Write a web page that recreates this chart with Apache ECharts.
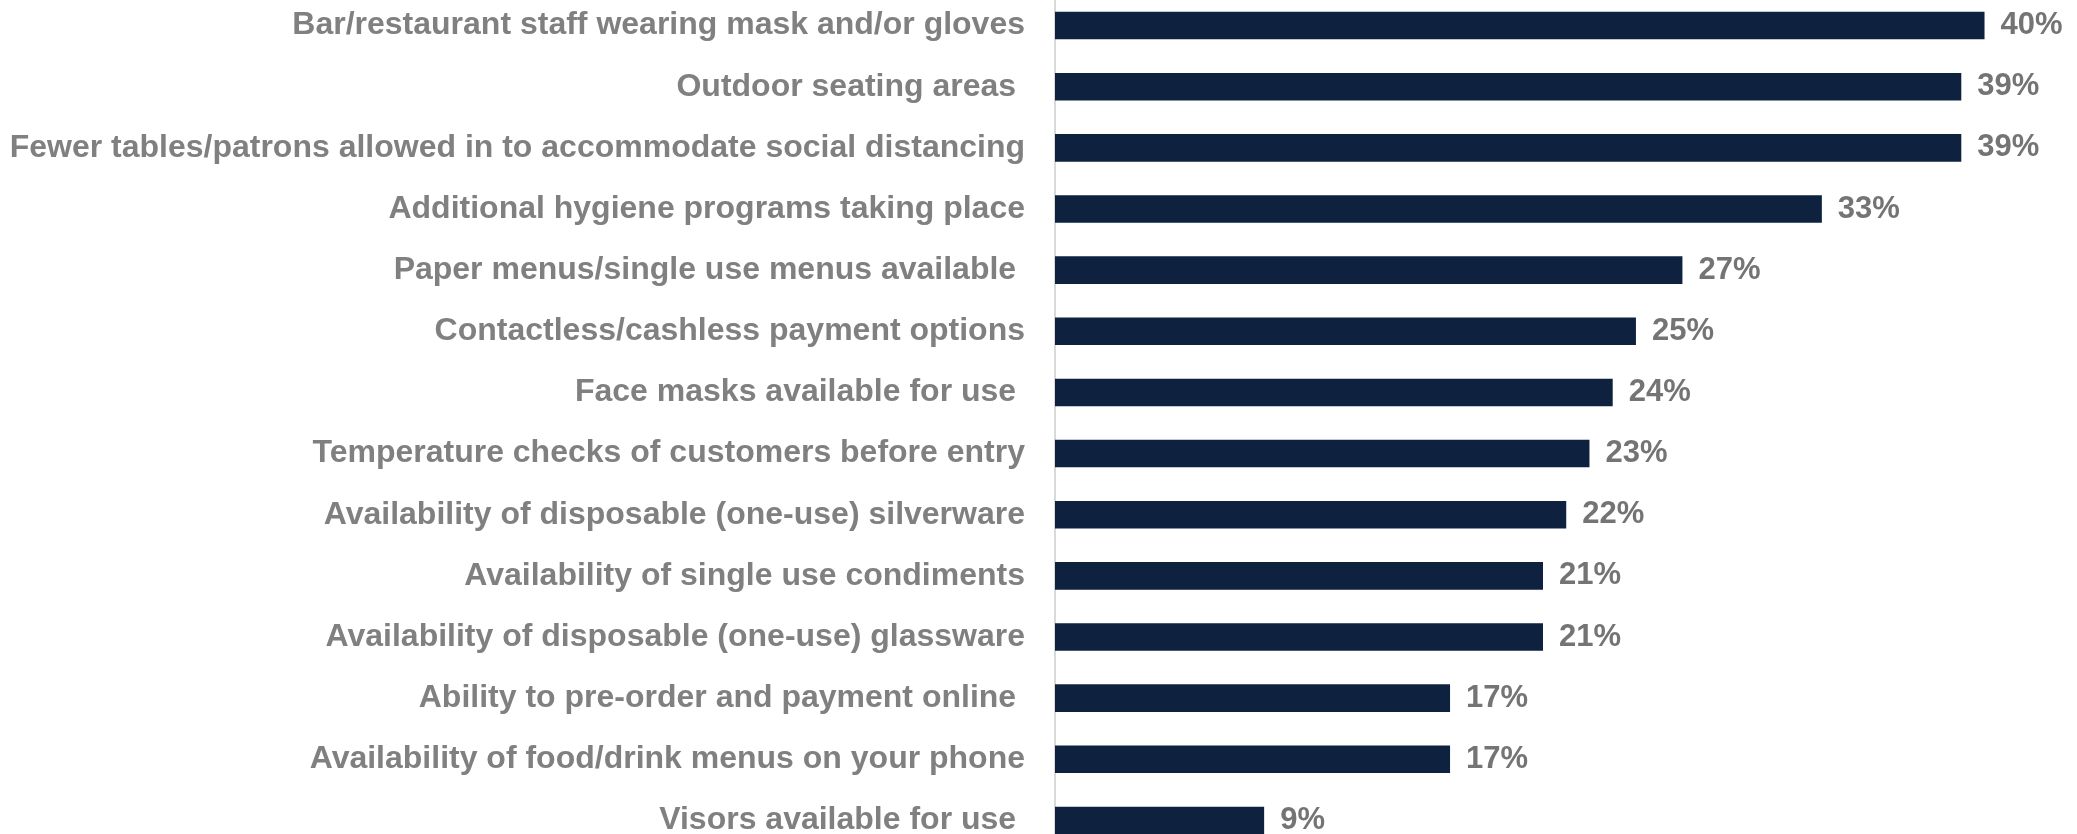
<!DOCTYPE html>
<html>
<head>
<meta charset="utf-8">
<script src="https://cdn.jsdelivr.net/npm/echarts@6/dist/echarts.min.js"></script>
<style>
  html, body { margin: 0; padding: 0; background: #ffffff; }
  #chart { width: 2077px; height: 834px; }
</style>
</head>
<body>
<div id="chart"></div>
<script>
// Safety measures respondents would like to see (share of respondents, %)
const categories = [
  'Bar/restaurant staff wearing mask and/or gloves',
  'Outdoor seating areas ',
  'Fewer tables/patrons allowed in to accommodate social distancing',
  'Additional hygiene programs taking place',
  'Paper menus/single use menus available ',
  'Contactless/cashless payment options',
  'Face masks available for use ',
  'Temperature checks of customers before entry',
  'Availability of disposable (one-use) silverware',
  'Availability of single use condiments',
  'Availability of disposable (one-use) glassware',
  'Ability to pre-order and payment online ',
  'Availability of food/drink menus on your phone',
  'Visors available for use '
];
const values = [40, 39, 39, 33, 27, 25, 24, 23, 22, 21, 21, 17, 17, 9];

const chart = echarts.init(document.getElementById('chart'), null, { renderer: 'canvas' });
const fontFamily = '"Liberation Sans", Arial, sans-serif';

chart.setOption({
  animation: false,
  backgroundColor: '#ffffff',
  grid: {
    left: 1055, top: -5, width: 976, height: 856,
    containLabel: false,
    outerBoundsMode: 'none'
  },
  xAxis: {
    type: 'value',
    min: 0,
    max: 42,
    show: false
  },
  yAxis: {
    type: 'category',
    inverse: true,
    data: categories,
    axisLine: { show: true, lineStyle: { color: '#d9d9d9', width: 2 } },
    axisTick: { show: false },
    axisLabel: {
      margin: 30,
      color: '#808080',
      fontFamily: fontFamily,
      fontWeight: 'bold',
      fontSize: 32
    }
  },
  series: [{
    type: 'bar',
    data: values,
    barWidth: 27.6,
    itemStyle: { color: '#0e2240' },
    label: {
      show: true,
      position: 'right',
      distance: 16,
      color: '#747474',
      fontFamily: fontFamily,
      fontWeight: 'bold',
      fontSize: 31,
      formatter: p => p.value + '%'
    }
  }]
});
</script>
</body>
</html>
